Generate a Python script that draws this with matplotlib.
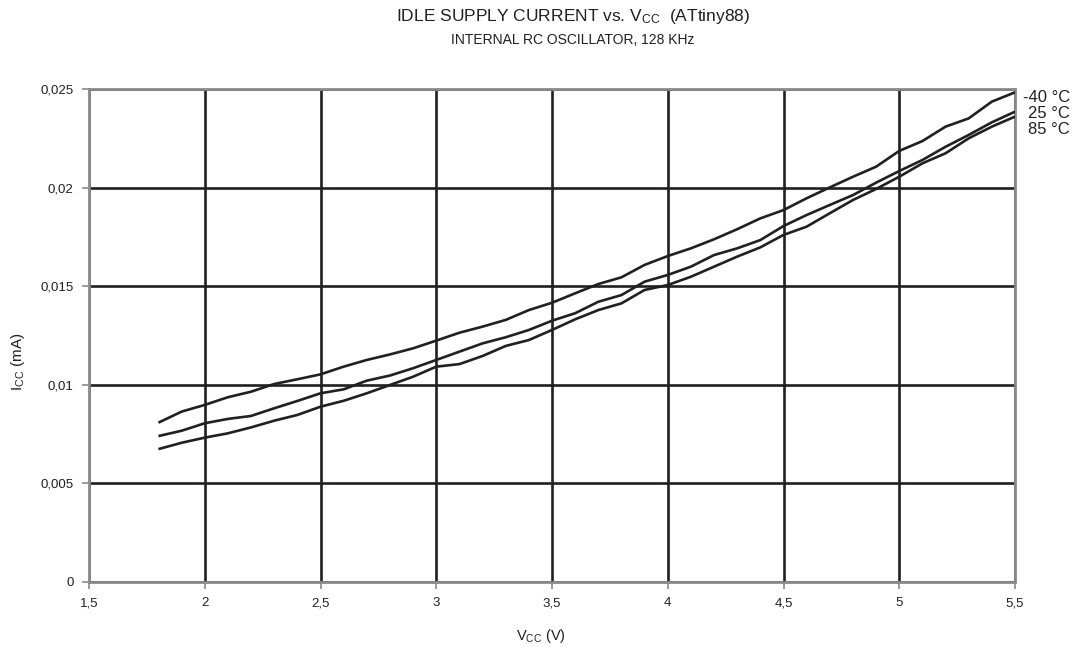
import matplotlib
matplotlib.use('Agg')
import matplotlib.pyplot as plt
from matplotlib.ticker import FuncFormatter, MultipleLocator

plt.rcParams['font.family'] = ['Liberation Sans', 'DejaVu Sans']
plt.rcParams['mathtext.default'] = 'regular'

# supply voltage (V)
vcc = [1.8, 1.9, 2.0, 2.1, 2.2, 2.3, 2.4, 2.5, 2.6, 2.7, 2.8, 2.9, 3.0, 3.1, 3.2,
       3.3, 3.4, 3.5, 3.6, 3.7, 3.8, 3.9, 4.0, 4.1, 4.2, 4.3, 4.4, 4.5, 4.6, 4.7,
       4.8, 4.9, 5.0, 5.1, 5.2, 5.3, 5.4, 5.5]

# idle current (mA) per temperature
icc_m40 = [0.00808, 0.00864, 0.00898, 0.00937, 0.00965, 0.01004, 0.01028, 0.01053,
           0.01092, 0.01126, 0.01154, 0.01185, 0.01224, 0.01264, 0.01295, 0.01329,
           0.01379, 0.01416, 0.01464, 0.01511, 0.01545, 0.01608, 0.01653, 0.01692,
           0.01738, 0.01789, 0.01844, 0.01886, 0.01946, 0.02001, 0.02055, 0.02106,
           0.02186, 0.02236, 0.02309, 0.02351, 0.02436, 0.02483]
icc_25 = [0.00740, 0.00767, 0.00805, 0.00827, 0.00842, 0.00881, 0.00918, 0.00957,
          0.00977, 0.01021, 0.01047, 0.01084, 0.01126, 0.01168, 0.01210, 0.01241,
          0.01278, 0.01325, 0.01363, 0.01421, 0.01455, 0.01523, 0.01557, 0.01599,
          0.01658, 0.01692, 0.01734, 0.01805, 0.01861, 0.01912, 0.01962, 0.02025,
          0.02084, 0.02140, 0.02207, 0.02267, 0.02331, 0.02385]
icc_85 = [0.00674, 0.00706, 0.00732, 0.00754, 0.00784, 0.00818, 0.00847, 0.00889,
          0.00919, 0.00957, 0.00999, 0.01041, 0.01092, 0.01105, 0.01146, 0.01197,
          0.01227, 0.01278, 0.01332, 0.01379, 0.01413, 0.01481, 0.01506, 0.01548,
          0.01599, 0.01650, 0.01697, 0.01760, 0.01802, 0.01870, 0.01937, 0.01993,
          0.02055, 0.02123, 0.02174, 0.02250, 0.02309, 0.02360]

series = [('-40 °C', icc_m40), ('25 °C', icc_25), ('85 °C', icc_85)]

fig = plt.figure(figsize=(10.72, 6.47), dpi=100)
ax = fig.add_axes([89 / 1072, 65 / 647, 926 / 1072, 493 / 647])

for label, vals in series:
    ax.plot(vcc, vals, color='#231f20', lw=1.9, solid_joinstyle='round',
            solid_capstyle='butt', zorder=3)

ax.set_xlim(1.5, 5.5)
ax.set_ylim(0, 0.025)
ax.xaxis.set_major_locator(MultipleLocator(0.5))
ax.yaxis.set_major_locator(MultipleLocator(0.005))


def comma(v, pos):
    s = ('%.3f' % v).rstrip('0').rstrip('.')
    return s.replace('.', ',')


ax.xaxis.set_major_formatter(FuncFormatter(comma))
ax.yaxis.set_major_formatter(FuncFormatter(comma))

ax.grid(True, color='#231f20', lw=1.9, zorder=1)
for sp in ax.spines.values():
    sp.set_color('#8a8a8a')
    sp.set_linewidth(2.0)
ax.tick_params(direction='out', length=5, width=1.2, color='#8a8a8a',
               labelsize=9.5, labelcolor='#231f20', pad=6)

# axis labels placed by hand
fig.text(541 / 1072, 1 - 636 / 647, 'V$_{CC}$ (V)',
         ha='center', va='center', fontsize=10.5, color='#231f20')
fig.text(18 / 1072, 1 - 362 / 647, 'I$_{CC}$ (mA)', rotation=90,
         ha='center', va='center', fontsize=11, color='#231f20')

fig.text(573 / 1072, 1 - 17 / 647, 'IDLE SUPPLY CURRENT vs. V$_{CC}$  (ATtiny88)',
         ha='center', va='center', fontsize=12.5, color='#231f20')
fig.text(573 / 1072, 1 - 40 / 647, 'INTERNAL RC OSCILLATOR, 128 KHz',
         ha='center', va='center', fontsize=10, color='#231f20')

# curve labels at right edge
for (label, vals), ypix in zip(series, [97, 114, 130]):
    fig.text(1070 / 1072, 1 - ypix / 647, label, fontsize=12,
             color='#231f20', ha='right', va='center')

fig.savefig('out.png', dpi=100)
